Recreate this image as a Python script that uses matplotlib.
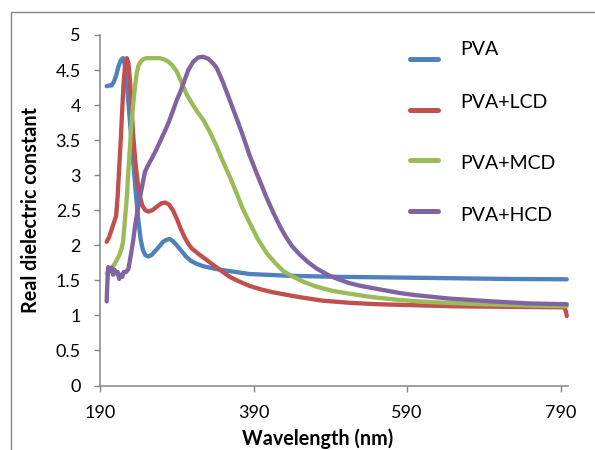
import matplotlib
matplotlib.use("Agg")
import matplotlib.pyplot as plt
from matplotlib.lines import Line2D
from matplotlib.patches import Rectangle

plt.rcParams['font.family'] = ['Lato', 'DejaVu Sans']

# ---------------- data ----------------
series_names = ["PVA", "PVA+LCD", "PVA+MCD", "PVA+HCD"]
series_colors = ["#4F81BD", "#C0504D", "#9BBB59", "#8064A2"]

pva_x = [198.7, 202, 205, 208, 211, 214, 217, 220, 222, 225, 228, 231, 234, 237,
         240, 243, 246, 249, 253, 257, 262, 267, 272, 277, 281, 285, 290, 296,
         302, 308, 315, 325, 342, 360, 385, 437, 500, 580, 650, 720, 798]
pva_y = [4.27, 4.28, 4.28, 4.33, 4.42, 4.55, 4.64, 4.67, 4.60, 4.30, 3.90, 3.50,
         3.10, 2.70, 2.35, 2.08, 1.93, 1.86, 1.84, 1.86, 1.92, 1.98, 2.05, 2.08,
         2.09, 2.06, 2.00, 1.92, 1.84, 1.78, 1.74, 1.70, 1.66, 1.63, 1.59, 1.565,
         1.55, 1.54, 1.53, 1.52, 1.515]

lcd_x = [198.7, 202, 205, 208, 211, 213, 215, 217, 219, 221, 223, 225, 227, 229,
         231, 233, 236, 239, 242, 245, 249, 253, 258, 264, 270, 275, 280, 285,
         290, 295, 300, 305, 310, 318, 329, 340, 350, 359, 370, 385, 400, 415,
         430, 450, 480, 515, 550, 600, 650, 700, 750, 795, 797, 798]
lcd_y = [2.05, 2.12, 2.22, 2.32, 2.42, 2.70, 3.10, 3.50, 3.95, 4.35, 4.60, 4.67,
         4.60, 4.35, 4.00, 3.60, 3.20, 2.90, 2.70, 2.57, 2.50, 2.48, 2.50, 2.55,
         2.60, 2.61, 2.58, 2.50, 2.38, 2.24, 2.12, 2.02, 1.95, 1.88, 1.79, 1.70,
         1.62, 1.55, 1.49, 1.42, 1.37, 1.33, 1.30, 1.26, 1.21, 1.18, 1.16, 1.145,
         1.13, 1.125, 1.12, 1.115, 1.05, 0.99]

mcd_x = [198.7, 203, 207, 211, 215, 218, 220, 222, 224.7, 227, 229, 231, 233.4,
         236, 238, 240, 243, 247, 252, 260, 268, 274, 279, 284, 290, 296, 303,
         310, 317, 324.5, 333, 342, 350, 359, 368, 376, 385, 395, 407, 418, 429,
         440, 455, 472, 493, 515, 545, 580, 620, 660, 700, 750, 798]
mcd_y = [1.60, 1.65, 1.70, 1.77, 1.86, 1.95, 2.05, 2.30, 2.65, 3.07, 3.40, 3.75,
         4.03, 4.30, 4.47, 4.56, 4.62, 4.66, 4.67, 4.67, 4.67, 4.65, 4.62, 4.57,
         4.48, 4.33, 4.15, 4.02, 3.90, 3.79, 3.62, 3.41, 3.20, 2.98, 2.74, 2.52,
         2.32, 2.10, 1.89, 1.75, 1.63, 1.56, 1.48, 1.41, 1.35, 1.31, 1.26, 1.22,
         1.19, 1.17, 1.155, 1.14, 1.13]

hcd_x = [198.7, 199.5, 200.8, 203, 205, 207, 209, 211, 213, 215, 217, 219, 221,
         224, 227, 230, 233, 236, 239, 242, 245, 248.6, 253, 258, 264, 269, 275,
         280, 285.4, 290, 295, 300, 305, 311.5, 318, 324.5, 331, 337, 342, 350,
         359, 368, 376.6, 385, 394, 400, 407, 416, 424, 431, 440, 450, 461, 472,
         480, 490, 502, 515, 530, 545, 560, 580, 600, 645, 700, 750, 798]
hcd_y = [1.20, 1.45, 1.69, 1.64, 1.68, 1.58, 1.65, 1.60, 1.62, 1.52, 1.58, 1.55,
         1.62, 1.62, 1.66, 1.85, 2.05, 2.30, 2.50, 2.68, 2.85, 3.05, 3.15, 3.25,
         3.38, 3.50, 3.64, 3.77, 3.93, 4.07, 4.20, 4.35, 4.50, 4.62, 4.68, 4.69,
         4.66, 4.60, 4.53, 4.33, 4.07, 3.81, 3.55, 3.28, 3.03, 2.87, 2.68, 2.46,
         2.28, 2.14, 1.99, 1.87, 1.76, 1.67, 1.62, 1.56, 1.51, 1.46, 1.42, 1.39,
         1.36, 1.32, 1.29, 1.24, 1.20, 1.17, 1.16]

x_ticks = [190, 390, 590, 790]
y_ticks = [0, 0.5, 1, 1.5, 2, 2.5, 3, 3.5, 4, 4.5, 5]
y_tick_labels = ["0", "0.5", "1", "1.5", "2", "2.5", "3", "3.5", "4", "4.5", "5"]
x_label = "Wavelength (nm)"
y_label = "Real dielectric constant"

# ---------------- figure ----------------
W, H = 595, 450
fig = plt.figure(figsize=(W / 100, H / 100), dpi=100)
fig.patch.set_facecolor("white")

def fx(px):
    return px / W

def fy(py):
    return 1 - py / H

ax = fig.add_axes([fx(100), fy(385.5), fx(568.3) - fx(100), fy(35) - fy(385.5)])

xs = [pva_x, lcd_x, mcd_x, hcd_x]
ys = [pva_y, lcd_y, mcd_y, hcd_y]
for x, y, c, n in zip(xs, ys, series_colors, series_names):
    ax.plot(x, y, color=c, lw=3.1, solid_capstyle="round",
            solid_joinstyle="round", label=n, clip_on=False)

ax.set_xlim(190, 800)
ax.set_ylim(0, 5)
ax.set_xticks(x_ticks)
ax.set_xticklabels([str(t) for t in x_ticks])
ax.set_yticks(y_ticks)
ax.set_yticklabels(y_tick_labels)

gray = "#868686"
for s in ["top", "right"]:
    ax.spines[s].set_visible(False)
for s in ["left", "bottom"]:
    ax.spines[s].set_color(gray)
    ax.spines[s].set_linewidth(1.1)
ax.tick_params(axis="both", direction="out", length=4.3, width=1.0,
               color=gray, labelsize=13, labelcolor="black")
ax.tick_params(axis="x", pad=9.5)
ax.tick_params(axis="y", pad=9.5)

# axis titles
fig.text(fx(318), fy(445), x_label, ha="center", va="baseline",
         fontsize=14.2, fontweight="bold")
fig.text(fx(31), fy(210), y_label, ha="center", va="center", rotation=90,
         fontsize=14.2, fontweight="bold")

# legend (Excel-style, right side)
leg_line_y = [59, 109.7, 160.3, 210.7]
leg_text_base = [55, 107.7, 169, 220.7]
for n, c, ly, ty in zip(series_names, series_colors, leg_line_y, leg_text_base):
    fig.add_artist(Line2D([fx(410), fx(438)], [fy(ly), fy(ly)], color=c,
                          lw=3.6, solid_capstyle="round"))
    fig.text(fx(460.7), fy(ty), n, ha="left", va="baseline", fontsize=14)

# chart-area border (partially cropped in the reference)
fig.add_artist(Rectangle((fx(11), -0.5), 2.0, fy(12) + 0.5, fill=False,
                         edgecolor=gray, lw=1.0, transform=fig.transFigure))

fig.savefig("out.png", dpi=100)
